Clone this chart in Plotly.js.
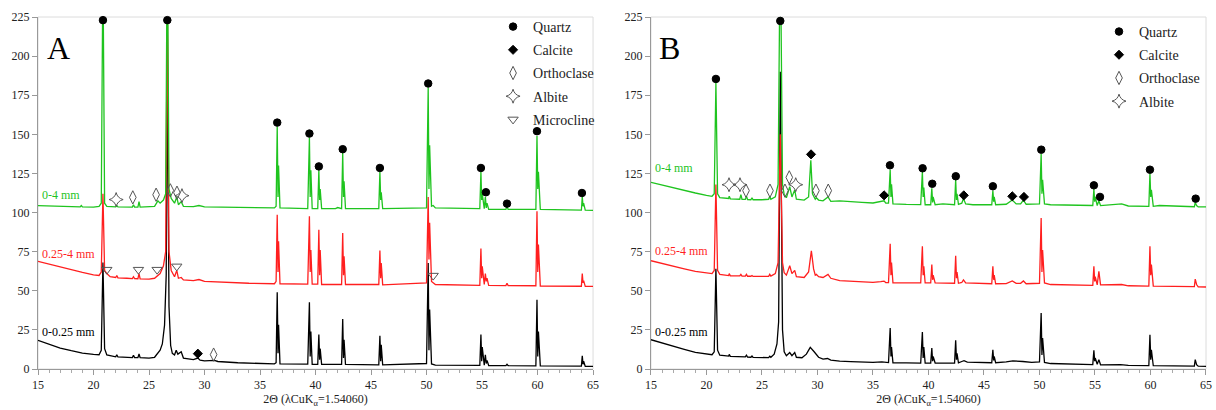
<!DOCTYPE html>
<html>
<head>
<meta charset="utf-8">
<script src="https://cdn.plot.ly/plotly-3.0.1.min.js"></script>
<style>html,body{margin:0;padding:0;background:#fff;}#chart{width:1216px;height:410px;}</style>
</head>
<body>
<div id="chart"></div>
<script>
// ---------- Panel A patterns: [2theta, intensity] ----------
const A_fine = [[15,18.3],[16,15.7],[17,13.4],[18,11.7],[19,10.2],[20,9.4],[20.5,9.1],[20.7,12],[20.85,68],[21.0,13],[21.2,9],[22.0,7.8],[22.1,9],[22.2,7.7],[23.0,7.4],[23.5,7.3],[23.6,8.8],[23.7,7.3],[24.0,7.3],[24.1,9.6],[24.2,7.2],[25.0,7],[25.5,7.5],[25.8,10],[26.0,12],[26.2,16],[26.4,28],[26.55,60],[26.65,200],[26.8,40],[26.95,15],[27.1,10],[27.3,9],[27.45,12],[27.6,9.5],[27.9,11],[28.1,7],[29.0,6],[29.4,7],[29.6,5.6],[30,5.2],[30.9,5.5],[31.2,4.8],[33,4],[35,3.4],[36.3,3.3],[36.45,4],[36.55,49],[36.62,10],[36.67,28.3],[36.8,3.3],[39.3,3.1],[39.45,42.6],[39.52,8],[39.58,24],[39.7,3],[40.2,3],[40.3,22],[40.37,6],[40.42,13],[40.55,3],[42.35,2.9],[42.45,32],[42.52,7],[42.57,18.7],[42.7,2.9],[45.7,2.7],[45.8,21.3],[45.87,5],[45.92,15.5],[46.05,2.6],[50.0,3.5],[50.15,67.8],[50.22,12],[50.28,38],[50.45,3.2],[50.8,2.5],[54.8,2.3],[54.9,22],[54.97,5],[55.02,14],[55.2,2.5],[55.3,9.1],[55.38,3.5],[55.45,5.5],[55.6,2.2],[57.15,2.1],[57.25,3],[57.35,2.1],[59.85,2],[59.95,44.3],[60.02,8],[60.08,24],[60.25,2],[63.95,1.8],[64.03,8.5],[64.1,3],[64.15,5],[64.3,1.7],[65,1.7]];
const A_mid = [[15,68.8],[16,67],[17,65],[18,63.3],[19,61.7],[20,60.2],[20.5,59.8],[20.7,62],[20.85,112],[21.0,63],[21.2,61],[21.5,59],[22.0,58.5],[22.1,59.8],[22.2,58.3],[23.0,58],[23.5,57.8],[23.6,59],[23.7,57.8],[24.0,57.7],[24.1,61],[24.2,57.6],[25.0,57.5],[25.5,58],[25.8,60],[26.0,61],[26.3,66],[26.5,75],[26.65,240],[26.8,75],[27.0,63],[27.3,59],[27.5,63],[27.65,58],[27.9,58.5],[28.1,57],[29,56.5],[29.5,57.2],[30,56],[32,55.3],[34,54.8],[36.3,54.5],[36.45,56],[36.55,98.6],[36.62,62],[36.67,81.6],[36.8,54.5],[39.3,54.2],[39.45,97.6],[39.52,62],[39.58,76],[39.7,54.2],[40.2,54.2],[40.3,89],[40.37,60],[40.42,76],[40.55,54],[42.35,54],[42.45,87],[42.52,60],[42.57,72],[42.7,54],[45.7,54],[45.8,75.8],[45.87,58],[45.92,67.8],[46.05,53.8],[50.0,55],[50.15,110],[50.22,70],[50.28,93.5],[50.45,56],[50.6,55],[50.8,54],[54.8,53.5],[54.9,77],[54.97,58],[55.02,65.6],[55.2,54],[55.3,61],[55.38,56],[55.45,58],[55.6,53.5],[57.15,53.3],[57.25,54.8],[57.35,53.3],[59.85,53.2],[59.95,100.8],[60.02,62],[60.08,79.5],[60.25,53],[63.95,52.9],[64.03,61],[64.1,55],[64.15,56.5],[64.3,52.8],[65,52.8]];
const A_all = [[15,104.4],[16,104.3],[17,104.0],[18,103.8],[18.8,103.6],[18.9,104.5],[19.0,103.6],[20,103.5],[20.5,104],[20.7,106],[20.85,260],[21.0,106],[21.2,104],[22.0,103.6],[22.1,104.5],[22.2,103.6],[23.5,103.5],[23.6,105],[23.7,103.5],[24.0,103.5],[24.1,107],[24.2,103.5],[25.5,104],[25.8,107.5],[26.0,106],[26.3,108],[26.5,112],[26.65,280],[26.8,115],[27.0,109],[27.3,106],[27.5,110],[27.65,105],[27.9,107],[28.1,104],[29,103.8],[29.5,104.5],[30,103.6],[31,103.5],[32,103.2],[34,103],[36.3,103],[36.45,104],[36.55,155],[36.62,110],[36.67,130],[36.8,103],[39.3,102.5],[39.45,148],[39.52,110],[39.58,127],[39.7,102.5],[40.2,102.5],[40.3,127],[40.37,108],[40.42,115],[40.55,102.5],[41.8,102.5],[42.0,103.2],[42.2,102.5],[42.35,102.5],[42.45,138],[42.52,110],[42.57,120],[42.7,102.5],[45.7,102.5],[45.8,126],[45.87,108],[45.92,113],[46.05,102.5],[50.0,103],[50.15,180],[50.22,115],[50.28,143],[50.45,104],[50.6,104.5],[50.8,103],[54.8,102.5],[54.9,126],[54.97,108],[55.02,112],[55.2,102.5],[55.3,110],[55.38,103],[55.45,106],[55.6,102],[57.15,102],[57.25,104],[57.35,102],[59.85,102],[59.95,149],[60.02,115],[60.08,126],[60.25,102],[63.95,101.5],[64.03,110],[64.1,104],[64.15,106],[64.3,101.5],[65,101.4]];

// ---------- Panel B patterns ----------
const B_fine = [[15,18.7],[16,16.5],[17,14.5],[18,12.5],[19,10.6],[20,9.6],[20.5,9.1],[20.7,11],[20.85,64],[21.0,12],[21.2,8.8],[22.0,8.2],[22.05,9.3],[22.15,8.1],[23.5,7.7],[23.6,8.8],[23.7,7.6],[24.0,7.5],[24.1,8.3],[24.2,7.4],[25,7.1],[25.6,7.3],[25.7,8.2],[25.8,7.5],[26.1,9.5],[26.35,16],[26.5,30],[26.65,190],[26.85,25],[27.0,11],[27.2,8.5],[27.5,10.5],[27.7,8.5],[27.95,10.5],[28.1,7.5],[28.6,7.2],[29.0,9.5],[29.35,13.8],[29.7,11],[30.1,7.5],[30.5,6.3],[30.9,6.7],[31.2,5.7],[32,5],[33,4.7],[35,4.2],[35.8,4.6],[36.1,4.3],[36.4,4.1],[36.55,26.2],[36.62,8],[36.67,14],[36.8,4],[38,3.9],[39.3,3.8],[39.45,23.6],[39.52,7],[39.58,14],[39.7,3.8],[40.2,3.8],[40.3,13.4],[40.37,5],[40.42,8],[40.6,3.8],[42.35,3.8],[42.45,18.3],[42.52,6],[42.57,10],[42.7,4],[43.0,4.8],[43.2,5.3],[43.5,4.4],[45.7,4],[45.8,12.3],[45.87,5.5],[45.92,8],[46.05,4],[47,4.6],[47.6,5.2],[48.5,4.8],[49.3,4.2],[50.0,4.5],[50.15,35.8],[50.22,9],[50.28,19.8],[50.45,4.2],[51,3.5],[54.8,2.8],[54.9,11.9],[54.97,5],[55.02,7],[55.2,3],[55.35,6],[55.5,2.7],[57.3,2.8],[58,2.3],[59.85,2.2],[59.95,21.9],[60.02,6],[60.08,12.3],[60.25,2.1],[63.95,1.9],[64.03,6],[64.15,2.8],[64.3,1.8],[65,1.7]];
const B_mid = [[15,69.2],[16,67.3],[17,65.6],[18,64],[19,62.4],[20,61.5],[20.5,61],[20.7,63],[20.85,118],[21.0,63],[21.2,60.5],[22.0,59.7],[22.05,61],[22.15,59.6],[23.0,59.5],[23.1,60.5],[23.2,59.4],[23.5,59.4],[23.6,60.5],[23.7,59.3],[24.0,59.3],[24.1,59.8],[24.2,59.2],[25,59.2],[25.6,59.2],[25.7,60.5],[25.8,59.4],[26.2,61],[26.45,68],[26.65,150],[26.85,68],[27.0,61.5],[27.2,60],[27.5,66],[27.7,61],[27.95,63],[28.1,59],[28.8,58.5],[29.2,62],[29.45,75.6],[29.65,64],[29.8,60],[29.9,60.5],[30.1,59],[30.5,58.5],[30.95,60.5],[31.2,58],[32,56.5],[33,56],[34,55.6],[35,55.4],[35.7,55.8],[36.0,56.2],[36.15,55.3],[36.4,55.2],[36.55,80.1],[36.62,60],[36.67,68],[36.8,55],[38,55],[39.3,55],[39.45,78.4],[39.52,60],[39.58,65.6],[39.7,55],[40.2,55],[40.3,66.7],[40.37,57],[40.42,60],[40.6,55],[42.35,54.8],[42.45,72.4],[42.52,58],[42.57,62],[42.7,54.8],[43.0,55.3],[43.15,57],[43.35,55],[45.7,54.5],[45.8,65.6],[45.87,57],[45.92,60],[46.05,54.5],[47,54.6],[47.55,56.3],[47.9,54.7],[48.3,54.8],[48.55,56.3],[48.8,54.5],[50.0,54.8],[50.15,96.5],[50.22,62],[50.28,76],[50.45,55],[51,54],[54.8,53.5],[54.9,65.6],[54.97,56],[55.02,59],[55.2,53.8],[55.35,62.4],[55.5,53.8],[56.6,53.8],[57.4,54],[58,53.2],[59.85,53],[59.95,78.4],[60.02,60],[60.08,66.7],[60.25,53],[63.95,52.6],[64.03,57.5],[64.15,54],[64.3,52.5],[65,52.4]];
const B_all = [[15,119.3],[16,117.5],[17,115.7],[18,114],[19,112.5],[20,111],[20.5,110.4],[20.7,112],[20.85,183],[21.0,112],[21.2,109.5],[22.0,109],[22.05,110.5],[22.15,108.8],[23.0,108.5],[23.1,111.5],[23.2,108.5],[23.5,108.4],[23.6,110.5],[23.7,108.3],[24.0,108.2],[24.1,109.5],[24.2,108.2],[25,108.2],[25.6,108.5],[25.7,110.5],[25.8,108.5],[26.2,110],[26.45,118],[26.65,280],[26.85,118],[27.0,111.5],[27.2,109.5],[27.5,116.5],[27.7,110],[27.95,114.5],[28.1,108.5],[28.8,108],[29.2,110],[29.4,133.4],[29.55,112],[29.8,108.5],[29.9,109.5],[30.1,108],[30.5,107.5],[30.95,110],[31.2,107.2],[32,107.5],[33,107.2],[34,106.5],[35,106.1],[35.7,106.8],[36.0,107.5],[36.15,106],[36.4,106],[36.55,127.4],[36.62,110],[36.67,118],[36.8,105.6],[38,105.2],[39.3,105.1],[39.45,126],[39.52,110],[39.58,116],[39.7,105],[40.2,105],[40.3,115.5],[40.37,106.5],[40.42,110],[40.6,105],[41.3,105.5],[42.35,105],[42.45,121],[42.52,108],[42.57,112],[42.7,105.2],[43.0,106],[43.15,109],[43.35,105.5],[44,105],[45.7,105],[45.8,114],[45.87,107],[45.92,110],[46.05,105],[47,105.3],[47.55,108],[47.9,105.5],[48.3,105.5],[48.55,108],[48.8,105.3],[50.0,105.5],[50.15,137.5],[50.22,112],[50.28,121],[50.45,105.5],[51,105],[54.8,104.5],[54.9,115],[54.97,107],[55.02,110],[55.2,104.5],[55.35,107.5],[55.5,104.4],[56.6,105.2],[57.4,105.5],[58,104.2],[59.85,104],[59.95,125],[60.02,110],[60.08,114.6],[60.25,104],[60.8,104.5],[63.95,103.7],[64.03,106.5],[64.15,104.5],[64.3,103.6],[65,103.6]];

// ---------- Phase markers ----------
const quartzA_x = [20.85,26.65,36.55,39.45,40.3,42.45,45.8,50.15,54.9,55.35,57.25,59.95,64.0];
const quartzA_y = [223,223,157.5,150.5,129.5,140.5,128.5,182.5,128.5,113,105.7,152,112.5];
const calciteA_x = [29.4];
const calciteA_y = [9.8];
const orthoA_x = [23.54,25.64,26.92,27.52,30.82];
const orthoA_y = [109.7,111.4,114.2,112.7,9.2];
const albiteA_x = [22.04,27.97];
const albiteA_y = [108.3,110.8];
const microA_x = [21.2,24.05,25.73,27.5,50.6];
const microA_y = [63.5,63.5,63.5,65.6,59.7];

const quartzB_x = [20.85,26.65,36.53,39.47,40.34,42.46,45.8,50.16,54.9,55.45,59.95,64.07];
const quartzB_y = [185.4,222.5,130.2,128.3,118.4,123.2,116.8,140.2,117.4,110,127.4,108.9];
const calciteB_x = [29.42,36.0,43.18,47.55,48.6];
const calciteB_y = [137.2,111,111,110.4,110];
const orthoB_x = [23.56,25.72,27.07,27.46,29.86,30.97];
const orthoB_y = [114,114,114,122.5,114,114];
const albiteB_x = [22.03,23.02,28.04];
const albiteB_y = [117.8,117.8,117.8];

const seriesNames = ['0-0.25 mm','0.25-4 mm','0-4 mm'];
const seriesColors = ['#000000','#ff1f1f','#1fc41f'];
const xTitle = '2Θ (λCuK<sub>α</sub>=1.54060)';

const FONT = 'Liberation Serif';

function line(pts, color, xa, ya) {
  return {type:'scatter', mode:'lines', x:pts.map(p=>p[0]), y:pts.map(p=>p[1]),
    line:{color:color, width:1.3}, xaxis:xa, yaxis:ya, showlegend:false, hoverinfo:'skip'};
}
function marks(name, xs, ys, symbol, size, filled, xa, ya, leg, grp) {
  return {type:'scatter', mode:'markers', name:name, x:xs, y:ys, xaxis:xa, yaxis:ya,
    legend:leg, legendgroup:grp, cliponaxis:false, hoverinfo:'skip',
    marker:{symbol:symbol, size:size, color: filled ? '#000' : '#555',
      line:{color: filled ? '#000' : '#555', width:1}}};
}

const traces = [
  line(A_fine, seriesColors[0], 'x', 'y'),
  line(A_mid, seriesColors[1], 'x', 'y'),
  line(A_all, seriesColors[2], 'x', 'y'),
  line(B_fine, seriesColors[0], 'x2', 'y2'),
  line(B_mid, seriesColors[1], 'x2', 'y2'),
  line(B_all, seriesColors[2], 'x2', 'y2'),
  marks('Quartz', quartzA_x, quartzA_y, 'circle', 7.5, true, 'x','y','legend','q'),
  marks('Calcite', calciteA_x, calciteA_y, 'diamond', 7, true, 'x','y','legend','c'),
  marks('Orthoclase', orthoA_x, orthoA_y, 'diamond-tall-open', 9.5, false, 'x','y','legend','o'),
  marks('Albite', albiteA_x, albiteA_y, 'star-diamond-open', 10, false, 'x','y','legend','a'),
  marks('Microcline', microA_x, microA_y, 'triangle-down-open', 9, false, 'x','y','legend','m'),
  marks('Quartz', quartzB_x, quartzB_y, 'circle', 7.5, true, 'x2','y2','legend2','q'),
  marks('Calcite', calciteB_x, calciteB_y, 'diamond', 7, true, 'x2','y2','legend2','c'),
  marks('Orthoclase', orthoB_x, orthoB_y, 'diamond-tall-open', 9.5, false, 'x2','y2','legend2','o'),
  marks('Albite', albiteB_x, albiteB_y, 'star-diamond-open', 10, false, 'x2','y2','legend2','a')
];

function xax(domain, anchor) {
  return {domain:domain, anchor:anchor, range:[15,65], tick0:15, dtick:5, ticks:'outside', ticklen:5,
    tickcolor:'#999', linecolor:'#999', linewidth:1, showline:true, showgrid:false, zeroline:false,
    minor:{dtick:1, ticks:'outside', ticklen:3, tickcolor:'#aaa', showgrid:false},
    tickfont:{family:FONT, size:12, color:'#222'},
    title:{text:xTitle, font:{family:FONT, size:12, color:'#222'}, standoff:3}, automargin:false};
}
function yax(anchor) {
  return {domain:[0,1], anchor:anchor, range:[0,225], tick0:0, dtick:25, ticks:'outside', ticklen:5,
    tickcolor:'#999', linecolor:'#999', linewidth:1, showline:true, showgrid:false, zeroline:false,
    tickfont:{family:FONT, size:12, color:'#222'}, automargin:false};
}

const labA_y = [23.4, 73.7, 111.4];
const labB_y = [23.4, 75.2, 128.5];
const annotations = [];
seriesNames.forEach((n,i)=>{
  annotations.push({xref:'x', yref:'y', x:15.15, y:labA_y[i], text:n, showarrow:false, xanchor:'left', yanchor:'middle', font:{family:FONT, size:12, color:seriesColors[i]}});
  annotations.push({xref:'x2', yref:'y2', x:15.15, y:labB_y[i], text:n, showarrow:false, xanchor:'left', yanchor:'middle', font:{family:FONT, size:12, color:seriesColors[i]}});
});
annotations.push({xref:'x domain', yref:'y domain', x:0.013, y:0.97, text:'A', showarrow:false, xanchor:'left', yanchor:'top', font:{family:FONT, size:32, color:'#000'}});
annotations.push({xref:'x2 domain', yref:'y2 domain', x:0.011, y:0.97, text:'B', showarrow:false, xanchor:'left', yanchor:'top', font:{family:FONT, size:32, color:'#000'}});

const legendStyle = {bgcolor:'rgba(0,0,0,0)', borderwidth:0, font:{family:FONT, size:14, color:'#222'},
  traceorder:'grouped', tracegroupgap:2, yanchor:'top', xanchor:'left'};

const layout = {
  width:1216, height:410, paper_bgcolor:'#fff', plot_bgcolor:'#fff',
  font:{family:FONT},
  margin:{l:38, r:10, t:17, b:41},
  xaxis: xax([0,0.4752], 'y'), yaxis: yax('x'),
  xaxis2: xax([0.5248,1], 'y2'), yaxis2: yax('x2'),
  showlegend:true,
  legend: Object.assign({}, legendStyle, {x:0.3896, y:1.017}),
  legend2: Object.assign({}, legendStyle, {x:0.9084, y:1.003}),
  annotations: annotations,
  shapes: [
    {type:'rect', xref:'x domain', yref:'y domain', x0:0, x1:1, y0:0, y1:1, line:{color:'#dcdcdc', width:1}, layer:'below'},
    {type:'rect', xref:'x2 domain', yref:'y2 domain', x0:0, x1:1, y0:0, y1:1, line:{color:'#dcdcdc', width:1}, layer:'below'}
  ]
};

Plotly.newPlot('chart', traces, layout, {staticPlot:true, displayModeBar:false});
</script>
</body>
</html>
